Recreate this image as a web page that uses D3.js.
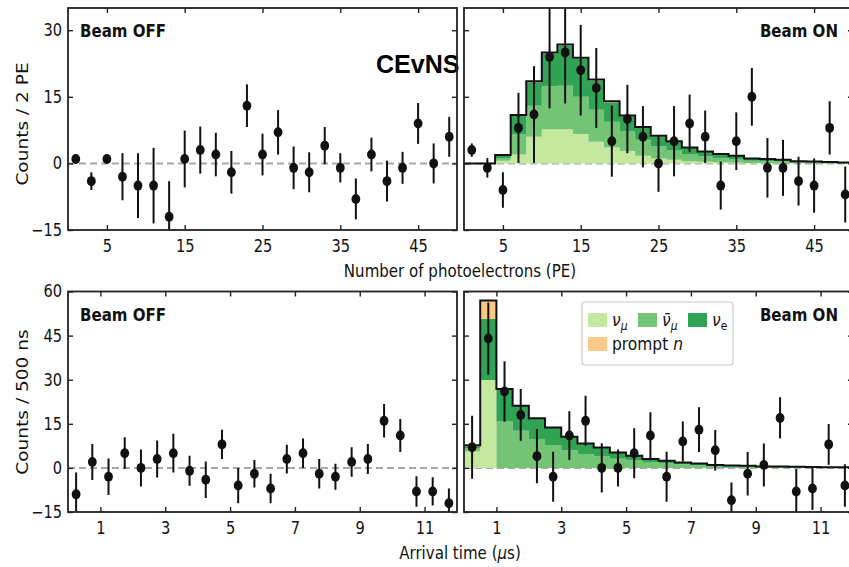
<!DOCTYPE html>
<html>
<head>
<meta charset="utf-8">
<script src="https://d3js.org/d3.v7.min.js"></script>
<style>
  body { margin: 0; background: #fff; }
  svg { display: block; font-family: "DejaVu Sans", sans-serif; }
</style>
</head>
<body>
<svg width="849" height="567"></svg>
<script>
// ---- photoelectron spectrum (2 PE bins) ----
var peCenters = [1, 3, 5, 7, 9, 11, 13, 15, 17, 19, 21, 23, 25, 27, 29, 31, 33, 35, 37, 39, 41, 43, 45, 47, 49];
var peOffVals = [1, -4, 1, -3, -5, -5, -12, 1, 3, 2, -2, 13, 2, 7, -1, -2, 4, -1, -8, 2, -4, -1, 9, 0, 6];
var peOffErr  = [1, 2, 1, 5.3, 7.3, 8.5, 8, 6.4, 5.3, 4.9, 4.8, 4.8, 4.7, 5, 4.8, 4.5, 4.2, 3.3, 4.6, 3.8, 4.6, 3.6, 4.6, 4.5, 4.5];
var peOnVals  = [3, -1, -6, 8, 11, 24, 25, 21, 17, 5, 10, 6, 0, 5, 9, 6, -5, 5, 15, -1, -1, -4, -5, 8, -7];
var peOnErr   = [1.5, 2.2, 4, 7.9, 10.9, 11.6, 11.5, 10.2, 9, 8, 7.7, 6.9, 6.4, 7.9, 6.5, 5.9, 5.4, 6.5, 6.5, 6.7, 6.3, 5.5, 6.1, 6, 6.3];
// predicted CEvNS, stacked
var peNumu    = [0, 0, 0.6, 2.0, 6.0, 7.7, 7.7, 6.6, 4.9, 3.6, 2.8, 1.7, 1.1, 0.8, 0.5, 0.35, 0.25, 0.2, 0.1, 0.1, 0.05, 0.05, 0, 0, 0];
var peNumubar = [0, 0, 0.6, 4.6, 7.0, 9.6, 9.8, 8.4, 7.2, 5.8, 4.4, 3.6, 2.7, 2.2, 1.6, 1.2, 0.9, 0.7, 0.5, 0.4, 0.35, 0.25, 0.2, 0.15, 0.1];
var peNue     = [0, 0, 0.7, 4.2, 5.3, 7.4, 9.0, 8.5, 6.5, 4.3, 3.4, 2.7, 2.2, 1.9, 1.4, 1.05, 0.9, 0.75, 0.5, 0.5, 0.4, 0.2, 0.25, 0.15, 0.1];
var pePrompt  = [0, 0, 0, 0.1, 0.2, 0.3, 0.3, 0.3, 0.3, 0.3, 0.2, 0.2, 0.2, 0.1, 0.1, 0.1, 0.05, 0.05, 0, 0, 0, 0, 0, 0, 0];

// ---- arrival time (500 ns bins) ----
var tCenters = [0.25, 0.75, 1.25, 1.75, 2.25, 2.75, 3.25, 3.75, 4.25, 4.75, 5.25, 5.75, 6.25, 6.75, 7.25, 7.75, 8.25, 8.75, 9.25, 9.75, 10.25, 10.75, 11.25, 11.75];
var tOffVals = [-9, 2, -3, 5, 0, 3, 5, -1, -4, 8, -6, -2, -7, 3, 5, -2, -3, 2, 3, 16, 11, -8, -8, -12];
var tOffErr  = [7.4, 6.1, 6.2, 5.4, 6.3, 6.3, 6.6, 5.1, 6.2, 5, 6, 4.7, 5, 4.9, 5, 5, 4.4, 5, 5.1, 5.7, 5.6, 5.2, 4.8, 5];
var tOnVals  = [7, 44, 26, 18, 4, -3, 11, 16, 0, 0, 5, 11, -3, 9, 13, 6, -11, -2, 1, 17, -8, -7, 8, -6];
var tOnErr   = [10.7, 12.3, 10.3, 8.8, 9.2, 8.5, 8.3, 8.5, 8.4, 6.3, 8.5, 7.9, 8.5, 6.8, 7.6, 6.9, 6, 7.4, 7.3, 7, 7.6, 7.3, 6.9, 7.2];
var tNumu    = [5.6, 29.9, 0, 0, 0, 0, 0, 0, 0, 0, 0, 0, 0, 0, 0, 0, 0, 0, 0, 0, 0, 0, 0, 0];
var tNumubar = [1.0, 0, 15.8, 12.6, 9.8, 7.8, 6.0, 4.7, 4.0, 3.1, 2.5, 2.0, 1.5, 1.2, 0.9, 0.7, 0.5, 0.4, 0.3, 0.25, 0.2, 0.18, 0.15, 0.12];
var tNue     = [0.8, 20.8, 11.0, 8.5, 7.1, 5.9, 4.6, 3.6, 2.9, 2.1, 1.6, 1.0, 0.9, 0.6, 0.6, 0.3, 0.35, 0.3, 0.2, 0.2, 0.15, 0.12, 0.1, 0.08];
var tPrompt  = [0.3, 6.2, 0, 0, 0, 0, 0, 0, 0, 0, 0, 0, 0, 0, 0, 0, 0, 0, 0, 0, 0, 0, 0, 0];

var peTicks = [5, 15, 25, 35, 45];
var peYTicks = [-15, 0, 15, 30];
var tTicks = [1, 3, 5, 7, 9, 11];
var tYTicks = [-15, 0, 15, 30, 45, 60];

var keys = ["numu", "numubar", "nue", "prompt"];
var colors = { numu: "#c5e89f", numubar: "#74c476", nue: "#31a354", prompt: "#fdc88a" };

var svg = d3.select("svg");
var SQ = 0.86;   // text is a bit narrow in this figure

function label(g, x, y, s, size, anchor, weight) {
  return g.append("text")
    .attr("transform", "translate(" + x + "," + y + ") scale(" + SQ + ",1)")
    .attr("text-anchor", anchor || "start")
    .attr("font-size", size)
    .attr("font-weight", weight || "normal")
    .attr("fill", "#111")
    .text(s);
}

function drawPanel(p) {
  var x = d3.scaleLinear().domain(p.xDomain).range([p.left, p.right]);
  var y = d3.scaleLinear().domain(p.yDomain).range([p.bottom, p.top]);
  var g = svg.append("g");

  svg.append("clipPath").attr("id", "clip-" + p.id)
    .append("rect")
    .attr("x", p.left).attr("y", p.top)
    .attr("width", p.right - p.left).attr("height", p.bottom - p.top);
  var inner = g.append("g").attr("clip-path", "url(#clip-" + p.id + ")");

  inner.append("line")
    .attr("x1", p.left).attr("x2", p.right)
    .attr("y1", y(0)).attr("y2", y(0))
    .attr("stroke", "#a8a8a8").attr("stroke-width", 2)
    .attr("stroke-dasharray", "7,4");

  if (p.stack) {
    var bw = p.binWidth;
    var rows = p.centers.map(function(c, i) {
      return { edge: c - bw / 2, numu: p.stack.numu[i], numubar: p.stack.numubar[i],
               nue: p.stack.nue[i], prompt: p.stack.prompt[i] };
    });
    var last = rows[rows.length - 1];
    rows.push(Object.assign({}, last, { edge: last.edge + bw }));
    var series = d3.stack().keys(keys)(rows);

    var area = d3.area().curve(d3.curveStepAfter)
      .x(function(d) { return x(d.data.edge); })
      .y0(function(d) { return y(d[0]); })
      .y1(function(d) { return y(d[1]); });
    inner.selectAll("path.layer").data(series).join("path")
      .attr("class", "layer")
      .attr("fill", function(d) { return colors[d.key]; })
      .attr("d", area);

    var step = d3.line().curve(d3.curveStepAfter)
      .x(function(d) { return x(d.data.edge); })
      .y(function(d) { return y(d[1]); });
    inner.append("path").datum(series[series.length - 1])
      .attr("fill", "none").attr("stroke", "#111").attr("stroke-width", 2)
      .attr("d", step);
  }

  inner.selectAll("line.err").data(p.centers).join("line")
    .attr("class", "err")
    .attr("x1", function(d) { return x(d); })
    .attr("x2", function(d) { return x(d); })
    .attr("y1", function(d, i) { return y(p.vals[i] - p.errs[i]); })
    .attr("y2", function(d, i) { return y(p.vals[i] + p.errs[i]); })
    .attr("stroke", "#111").attr("stroke-width", 2);

  inner.selectAll("ellipse.pt").data(p.centers).join("ellipse")
    .attr("class", "pt")
    .attr("cx", function(d) { return x(d); })
    .attr("cy", function(d, i) { return y(p.vals[i]); })
    .attr("rx", 4.4).attr("ry", 5)
    .attr("fill", "#111");

  // frame
  g.append("rect")
    .attr("x", p.left).attr("y", p.top)
    .attr("width", p.right - p.left).attr("height", p.bottom - p.top)
    .attr("fill", "none").attr("stroke", "#222").attr("stroke-width", 1.8);

  function tidy(sel) {
    sel.attr("font-size", 17).attr("font-family", null).attr("color", "#222");
    sel.select(".domain").remove();
    sel.selectAll(".tick line").attr("stroke-width", 1.4);
    sel.selectAll(".tick text").attr("transform", "scale(" + SQ + ",1)").attr("fill", "#111");
  }

  g.append("g").attr("transform", "translate(0," + p.bottom + ")")
    .call(d3.axisBottom(x).tickValues(p.xTicks).tickSize(-5).tickPadding(10).tickFormat(d3.format("d")))
    .call(tidy);
  g.append("g").attr("transform", "translate(0," + p.top + ")")
    .call(d3.axisTop(x).tickValues(p.xTicks).tickSize(-5).tickFormat(""))
    .call(tidy);
  g.append("g").attr("transform", "translate(" + p.left + ",0)")
    .call(d3.axisLeft(y).tickValues(p.yTicks).tickSize(-5).tickPadding(7)
      .tickFormat(p.yLabels ? d3.format("d") : ""))
    .call(tidy);
  g.append("g").attr("transform", "translate(" + p.right + ",0)")
    .call(d3.axisRight(y).tickValues(p.yTicks).tickSize(-5).tickFormat(""))
    .call(tidy);

  if (p.side === "left") {
    label(g, p.left + 12, p.top + 29, p.title, 17.5, "start", "bold");
  } else {
    label(g, p.right - 15, p.top + 29, p.title, 17.5, "end", "bold");
  }
}

var colL = [68, 457], colR = [464, 853];
var rowT = [8, 230], rowB = [291.5, 512];

// overall label sits under the frames
svg.append("text")
  .attr("x", 376).attr("y", 73)
  .attr("font-family", "'Liberation Sans', Arial, sans-serif")
  .attr("font-weight", "bold").attr("font-size", 25)
  .attr("fill", "#000")
  .text("CEvNS");

drawPanel({ id: "pe-off", left: colL[0], right: colL[1], top: rowT[0], bottom: rowT[1],
  xDomain: [0, 50], yDomain: [-15, 35], xTicks: peTicks, yTicks: peYTicks, yLabels: true,
  centers: peCenters, vals: peOffVals, errs: peOffErr, title: "Beam OFF", side: "left" });

drawPanel({ id: "pe-on", left: colR[0], right: colR[1], top: rowT[0], bottom: rowT[1],
  xDomain: [0, 50], yDomain: [-15, 35], xTicks: peTicks, yTicks: peYTicks, yLabels: false,
  centers: peCenters, vals: peOnVals, errs: peOnErr, title: "Beam ON", side: "right",
  binWidth: 2, stack: { numu: peNumu, numubar: peNumubar, nue: peNue, prompt: pePrompt } });

drawPanel({ id: "t-off", left: colL[0], right: colL[1], top: rowB[0], bottom: rowB[1],
  xDomain: [0, 12], yDomain: [-15, 60], xTicks: tTicks, yTicks: tYTicks, yLabels: true,
  centers: tCenters, vals: tOffVals, errs: tOffErr, title: "Beam OFF", side: "left" });

drawPanel({ id: "t-on", left: colR[0], right: colR[1], top: rowB[0], bottom: rowB[1],
  xDomain: [0, 12], yDomain: [-15, 60], xTicks: tTicks, yTicks: tYTicks, yLabels: false,
  centers: tCenters, vals: tOnVals, errs: tOnErr, title: "Beam ON", side: "right",
  binWidth: 0.5, stack: { numu: tNumu, numubar: tNumubar, nue: tNue, prompt: tPrompt } });

// axis titles
label(svg, 460, 277, "Number of photoelectrons (PE)", 17.5, "middle");
var at = label(svg, 460, 559, "", 17.5, "middle");
at.append("tspan").text("Arrival time (");
at.append("tspan").attr("font-style", "italic").text("\u03bc");
at.append("tspan").text("s)");

function yTitle(cy, s) {
  svg.append("text")
    .attr("transform", "translate(28," + cy + ") rotate(-90) scale(1.03," + SQ + ")")
    .attr("text-anchor", "middle")
    .attr("font-size", 18)
    .attr("fill", "#111")
    .text(s);
}
yTitle(124, "Counts / 2 PE");
yTitle(402, "Counts / 500 ns");

// legend
var lg = svg.append("g");
lg.append("rect")
  .attr("x", 582).attr("y", 302).attr("width", 151).attr("height", 63).attr("rx", 3)
  .attr("fill", "#fff").attr("fill-opacity", 0.85)
  .attr("stroke", "#cccccc").attr("stroke-width", 1.2);

var legendItems = [
  { key: "numu", sx: 588, sy: 313 },
  { key: "numubar", sx: 638, sy: 313 },
  { key: "nue", sx: 688, sy: 313 },
  { key: "prompt", sx: 588, sy: 337 }
];
legendItems.forEach(function(it) {
  lg.append("rect").attr("x", it.sx).attr("y", it.sy).attr("width", 19).attr("height", 14)
    .attr("fill", colors[it.key]);
  var t = label(lg, it.sx + 24, it.sy + 13, "", 18, "start");
  if (it.key === "numu") {
    t.append("tspan").attr("font-style", "italic").text("\u03bd");
    t.append("tspan").attr("font-style", "italic").attr("font-size", 12.5).attr("dy", 4).text("\u03bc");
  } else if (it.key === "numubar") {
    t.append("tspan").attr("font-style", "italic").text("\u03bd\u0304");
    t.append("tspan").attr("font-style", "italic").attr("font-size", 12.5).attr("dy", 4).text("\u03bc");
  } else if (it.key === "nue") {
    t.append("tspan").attr("font-style", "italic").text("\u03bd");
    t.append("tspan").attr("font-size", 12.5).attr("dy", 4).text("e");
  } else {
    t.append("tspan").text("prompt ");
    t.append("tspan").attr("font-style", "italic").text("n");
  }
});
</script>
</body>
</html>
